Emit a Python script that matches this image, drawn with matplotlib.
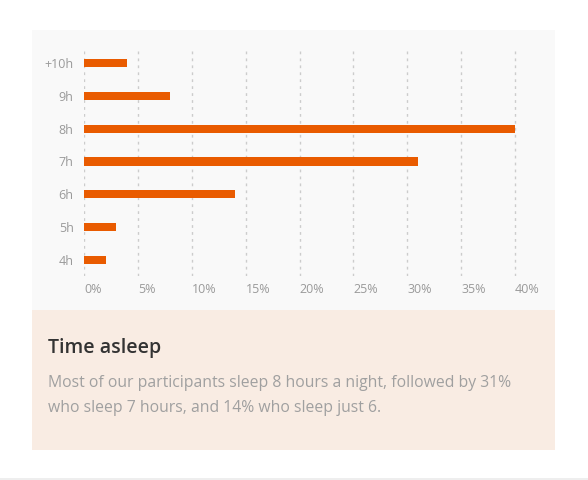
import matplotlib
matplotlib.use('Agg')
import matplotlib.pyplot as plt
from matplotlib.patches import Rectangle

plt.rcParams['font.family'] = ['Open Sans', 'DejaVu Sans']

# data
hours = ['4h', '5h', '6h', '7h', '8h', '9h', '+10h']
share = [2, 3, 14, 31, 40, 8, 4]
xticks = [0, 5, 10, 15, 20, 25, 30, 35, 40]
xtick_labels = [f'{t}%' for t in xticks]

title = 'Time asleep'
caption = ('Most of our participants sleep 8 hours a night, followed by 31%\n'
           'who sleep 7 hours, and 14% who sleep just 6.')

W, H = 588, 480
fig = plt.figure(figsize=(W / 100, H / 100), dpi=100)
fig.patch.set_facecolor('white')


def px_rect(x0, y0, x1, y1, color):
    # pixel coords, origin top-left
    fig.patches.append(Rectangle((x0 / W, 1 - y1 / H), (x1 - x0) / W, (y1 - y0) / H,
                                 transform=fig.transFigure, facecolor=color,
                                 edgecolor='none', zorder=-1))


px_rect(32, 30, 555, 310, '#f9f9f9')
px_rect(32, 310, 555, 450, '#f9ece3')
px_rect(0, 478, 588, 480, '#eeeeee')

# axes: 0% at x=84, 40% at x=515; rows span y=47..276
x0, x40, xr = 84, 515, 530
ax = fig.add_axes([x0 / W, 1 - 276 / H, (xr - x0) / W, (276 - 47) / H])
ax.set_zorder(2)
ax.set_facecolor('none')
ax.barh(range(len(hours)), share, height=0.25, color='#e95b00', zorder=3)
ax.set_xlim(0, 40 * (xr - x0) / (x40 - x0))
ax.set_ylim(-0.5, len(hours) - 0.5)
ax.set_xticks(xticks)
ax.set_xticklabels(xtick_labels, ha='left')
ax.set_yticks(range(len(hours)))
ax.set_yticklabels(hours)
ax.tick_params(axis='both', length=0, labelsize=9, labelcolor='#9a9a9a')
ax.tick_params(axis='y', pad=7.5)
ax.tick_params(axis='x', pad=5)
ax.grid(axis='x', color='#cccccc', linestyle=(0, (2, 3)), linewidth=1, zorder=0)
for s in ax.spines.values():
    s.set_visible(False)

fig.text(48 / W, 1 - 348 / H, title, fontsize=14, fontweight='semibold',
         color='#333333', va='center', ha='left')
fig.text(48 / W, 1 - 375 / H, caption, fontsize=11.35, color='#a0a0a0',
         va='top', ha='left', linespacing=1.78)

fig.savefig('out.png', dpi=100)
